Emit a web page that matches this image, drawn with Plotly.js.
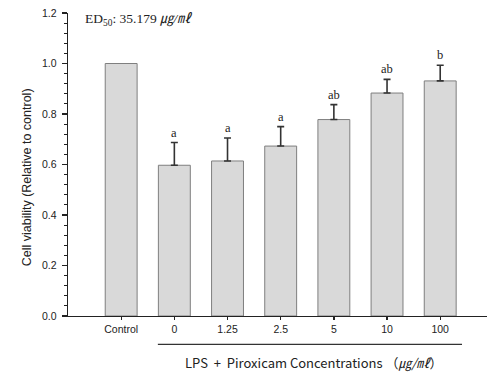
<!DOCTYPE html>
<html>
<head>
<meta charset="utf-8">
<script src="https://cdn.plot.ly/plotly-3.0.1.min.js"></script>
<style>html,body{margin:0;padding:0;background:#fff;}#chart{width:488px;height:374px;}</style>
</head>
<body>
<div id="chart"></div>
<script>
const categories = ['Control', '0', '1.25', '2.5', '5', '10', '100'];
const viability = [1.0, 0.597, 0.614, 0.673, 0.778, 0.883, 0.931];
const errorsSD = [0, 0.090, 0.091, 0.077, 0.059, 0.054, 0.062];
const sigLetters = ['', 'a', 'a', 'a', 'ab', 'ab', 'b'];

const barStyle = {color: '#d9d9d9', line: {color: '#7f7f7f', width: 1}};
const idxErr = categories.map((c, i) => i).filter(i => errorsSD[i] > 0);
const idxNoErr = categories.map((c, i) => i).filter(i => !(errorsSD[i] > 0));

const traceNoErr = {
  type: 'bar', x: idxNoErr.map(i => categories[i]), y: idxNoErr.map(i => viability[i]),
  width: 0.6, marker: barStyle, hoverinfo: 'skip'
};
const traceErr = {
  type: 'bar', x: idxErr.map(i => categories[i]), y: idxErr.map(i => viability[i]),
  width: 0.6, marker: barStyle, hoverinfo: 'skip',
  error_y: {type: 'data', array: idxErr.map(i => errorsSD[i]), symmetric: false,
            arrayminus: idxErr.map(() => 0),
            visible: true, color: '#333333', thickness: 1.6, width: 3.5}
};

const annotations = [];
categories.forEach((c, i) => {
  if (sigLetters[i]) {
    annotations.push({
      x: i, y: viability[i] + errorsSD[i], xref: 'x', yref: 'y',
      text: sigLetters[i], showarrow: false, yanchor: 'bottom', yshift: 1,
      font: {family: 'Liberation Serif, Times New Roman, serif', size: 12.5, color: '#222'}
    });
  }
});
annotations.push({
  x: (83 - 68) / 419, y: 1 - (19 - 12.7) / 303, xref: 'paper', yref: 'paper',
  xanchor: 'left', yanchor: 'middle',
  text: 'ED<sub>50</sub>: 35.179 <i>㎍/㎖</i>', showarrow: false,
  font: {family: 'Liberation Serif, Noto Sans CJK KR, serif', size: 13.5, color: '#222'}
});
annotations.push({
  x: (314 - 68) / 419, y: -(362 - 315.7) / 303, xref: 'paper', yref: 'paper',
  yanchor: 'middle',
  text: 'LPS  +  Piroxicam Concentrations （<i>㎍/㎖</i>）', showarrow: false,
  font: {family: 'Noto Sans CJK KR, Noto Sans, sans-serif', size: 13, color: '#222'}
});
annotations.push({
  x: (18 - 68) / 419, y: 1 - (177 - 12.7) / 303, xref: 'paper', yref: 'paper',
  text: 'Cell viability (Relative to control)', showarrow: false, textangle: -90,
  font: {family: 'Liberation Sans, Arial, sans-serif', size: 12.5, color: '#222'}
});

const layout = {
  width: 488, height: 374,
  margin: {l: 68, r: 1, t: 12.7, b: 58.3},
  paper_bgcolor: '#fff', plot_bgcolor: '#fff',
  showlegend: false, barmode: 'overlay',
  xaxis: {
    type: 'category', categoryorder: 'array', categoryarray: categories,
    range: [-1.0, 6.88],
    showline: true, linecolor: '#222', linewidth: 1.3,
    ticks: 'outside', ticklen: 3, tickwidth: 1.3, tickcolor: '#222',
    showgrid: false, zeroline: false,
    tickfont: {family: 'Liberation Sans, Arial, sans-serif', size: 10.5, color: '#222'}
  },
  yaxis: {
    range: [0, 1.2], dtick: 0.2, tickformat: '.1f',
    showline: true, linecolor: '#222', linewidth: 1.3,
    ticks: 'outside', ticklen: 5, tickwidth: 1.3, tickcolor: '#222',
    minor: {dtick: 0.04, ticks: 'outside', ticklen: 3, tickwidth: 1, tickcolor: '#222'},
    showgrid: false, zeroline: false, ticklabelstandoff: 3,
    tickfont: {family: 'Liberation Sans, Arial, sans-serif', size: 10.5, color: '#222'}
  },
  shapes: [{
    type: 'line', xref: 'x', yref: 'paper',
    x0: 1 - 0.31, x1: 6 + 0.41, y0: -(344 - 315.7) / 303, y1: -(344 - 315.7) / 303,
    line: {color: '#333', width: 1.3}
  }],
  annotations: annotations
};

Plotly.newPlot('chart', [traceNoErr, traceErr], layout, {displayModeBar: false, staticPlot: true});
</script>
</body>
</html>
